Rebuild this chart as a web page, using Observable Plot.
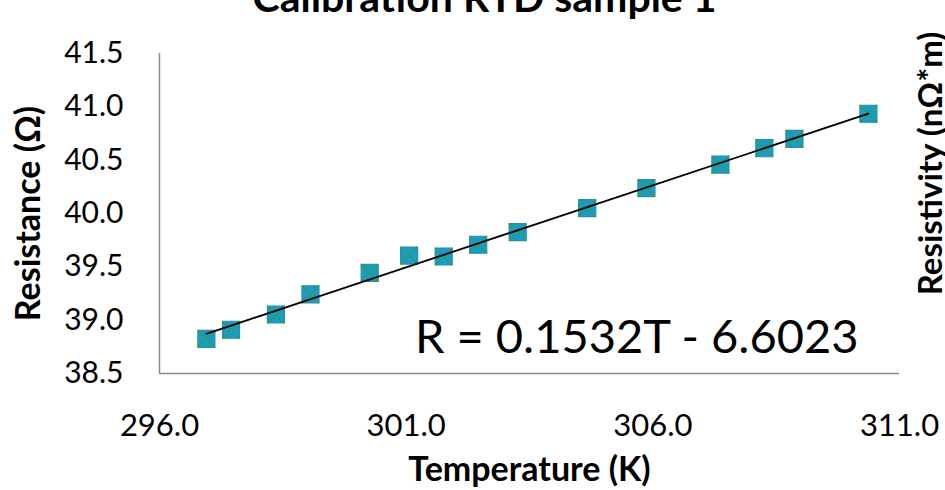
<!DOCTYPE html>
<html>
<head>
<meta charset="utf-8">
<script src="https://cdn.jsdelivr.net/npm/d3@7"></script>
<script src="https://cdn.jsdelivr.net/npm/@observablehq/plot@0.6"></script>
<style>
  html, body { margin: 0; padding: 0; background: #fff; }
  #chart svg { overflow: hidden; }
</style>
</head>
<body>
<div id="chart"></div>
<script>
const temperature = [296.95, 297.45, 298.36, 299.06, 300.26, 301.06, 301.76, 302.46, 303.26, 304.67, 305.87, 307.37, 308.26, 308.87, 310.37];
const resistance  = [38.825, 38.91, 39.053, 39.241, 39.444, 39.606, 39.597, 39.707, 39.825, 40.05, 40.238, 40.459, 40.612, 40.70, 40.935];
const xTicks = [296, 301, 306, 311];
const yTicks = [38.5, 39.0, 39.5, 40.0, 40.5, 41.0, 41.5];
const title = "Calibration RTD sample 1";
const xTitle = "Temperature (K)";
const yTitle = "Resistance (Ω)";
const y2Title = "Resistivity (nΩ*m)";
const equation = "R = 0.1532T - 6.6023";

const data = temperature.map((t, i) => ({t, r: resistance[i]}));

const plot = Plot.plot({
  width: 945,
  height: 490,
  marginLeft: 159,
  marginRight: 46,
  marginTop: 53,
  marginBottom: 117,
  style: {fontFamily: "Lato, sans-serif", background: "#fff", color: "#000"},
  x: {domain: [296, 311], axis: null},
  y: {domain: [38.5, 41.5], axis: null},
  marks: [
    Plot.axisY({ticks: yTicks, tickFormat: d => d.toFixed(1), tickSize: 0, tickPadding: 36, fontSize: 30, label: null}),
    Plot.axisX({ticks: xTicks, tickFormat: d => d.toFixed(1), tickSize: 0, tickPadding: 40, fontSize: 31, label: null}),
    Plot.ruleX([296], {stroke: "#8a8a8a", strokeWidth: 1.5}),
    Plot.ruleY([38.5], {stroke: "#8a8a8a", strokeWidth: 1.5}),
    Plot.dot(data, {x: "t", y: "r", symbol: "square", r: 9.6, fill: "#189bd3", stroke: "#2f8e98", strokeWidth: 1.2}),
    Plot.dot(data, {x: "t", y: "r", symbol: "times", r: 7.8, stroke: "#2ca05a", strokeWidth: 1.7}),
    Plot.linearRegressionY(data, {x: "t", y: "r", ci: 0, stroke: "#000", strokeWidth: 1.8}),
    Plot.text([equation], {frameAnchor: "bottom-right", textAnchor: "end", lineAnchor: "middle", dx: -41, dy: -36, fontSize: 47, fill: "#000"}),
    Plot.text([title], {frameAnchor: "top", textAnchor: "middle", lineAnchor: "top", dx: -45, dy: -71, fontSize: 41, fontWeight: "bold", fill: "#000"}),
    Plot.text([xTitle], {frameAnchor: "bottom", textAnchor: "middle", lineAnchor: "middle", dy: 97, fontSize: 34, fontWeight: "bold", fill: "#000"}),
    Plot.text([yTitle], {frameAnchor: "left", textAnchor: "middle", lineAnchor: "middle", dx: -130, rotate: -90, fontSize: 34, fontWeight: "bold", fill: "#000"}),
    Plot.text([y2Title], {frameAnchor: "right", textAnchor: "middle", lineAnchor: "middle", dx: 32, dy: -50, rotate: -90, fontSize: 33, fontWeight: "bold", fill: "#000"})
  ]
});
document.getElementById("chart").appendChild(plot);
</script>
</body>
</html>
